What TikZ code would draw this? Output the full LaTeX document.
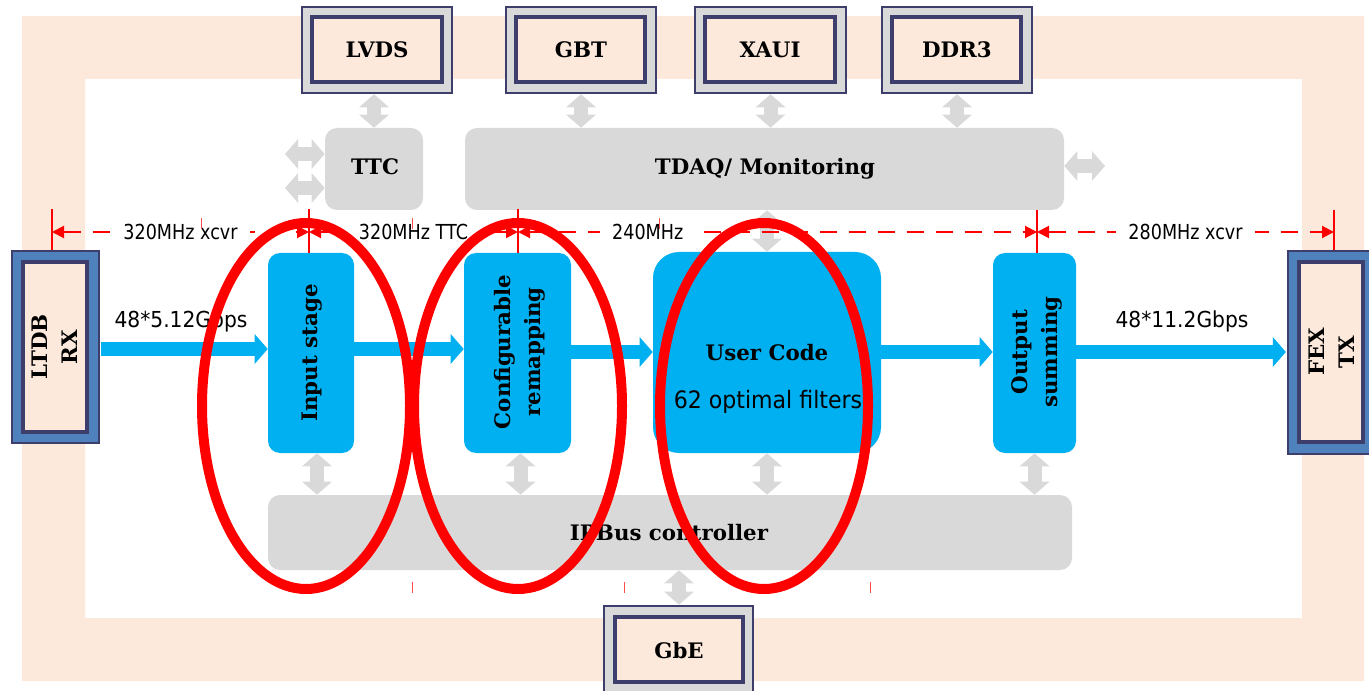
\documentclass[tikz,border=0pt]{standalone}
\usepackage{fontspec}
\setmainfont{DejaVu Serif}
\newfontfamily\flowsans{DejaVu Sans}[FakeStretch=0.92]
\newfontfamily\clocksans{DejaVu Sans}[FakeStretch=0.85]
\usetikzlibrary{arrows.meta,fit}

\definecolor{peach}{RGB}{252,233,219}
\definecolor{panelgray}{RGB}{217,217,217}
\definecolor{navy}{RGB}{62,62,108}
\definecolor{ltdbblue}{RGB}{79,129,189}
\definecolor{fpgacyan}{RGB}{0,176,240}
\definecolor{clkred}{RGB}{255,0,0}

\tikzset{
  boxfont/.style={font=\bfseries\fontsize{16}{22.5}\selectfont},
  boxtext/.style={inner sep=0pt, boxfont},
  ioframe/.style={inner sep=0pt, draw=navy, line width=1.9pt, fill=panelgray},
  ioinner/.style={inner sep=0pt, draw=navy, line width=2.5pt, fill=peach},
  linkframe/.style={inner sep=0pt, draw=navy, line width=1.6pt, fill=ltdbblue},
  fpgablk/.style={inner sep=0pt, fill=fpgacyan, rounded corners=9pt},
  panel/.style={inner sep=0pt, fill=panelgray, rounded corners=9pt},
  flow/.style={draw=fpgacyan, line width=10.5pt, -{Triangle[length=9.75pt,width=21.75pt]}},
  bus/.style={draw=panelgray, line width=10.5pt,
    {Triangle[length=9.75pt,width=21.75pt]}-{Triangle[length=9.75pt,width=21.75pt]}},
  clk/.style={draw=clkred, line width=1.5pt, dash pattern=on 12.75pt off 9pt,
    {Triangle[length=9pt,width=9pt]}-{Triangle[length=9pt,width=9pt]}},
  clktick/.style={draw=clkred, line width=1.5pt},
  clklabel/.style={fill=white, inner xsep=9pt, inner ysep=1pt,
    font=\clocksans\fontsize{15.5}{18}\selectfont},
  ratelabel/.style={font=\flowsans\fontsize{16.5}{20}\selectfont},
  rotlabel/.style={rotate=90, align=center, boxfont},
  ring/.style={draw=clkred, line width=7.5pt},
  stray/.style={draw=clkred!70, line width=0.75pt},
}

\begin{document}
\begin{tikzpicture}[x=0.75pt,y=-0.75pt]
\useasboundingbox (0,0) rectangle (1369,691);

% board outline band
\fill[peach, even odd rule] (22,16) rectangle (1364,681) (85,79) rectangle (1302,618);

% external interfaces
\node[ioframe, fit={(302,7) (452,93)}] (lvdsF) {};
\node[ioinner, fit={(312,17) (442,82)}] (lvds) {};
\node[boxtext] (lvdstxt) at (377,50) {LVDS};
\node[ioframe, fit={(506,7) (656,93)}] (gbtF) {};
\node[ioinner, fit={(516,17) (645,82)}] (gbt) {};
\node[boxtext] (gbttxt) at (581,50) {GBT};
\node[ioframe, fit={(695,7) (846,93)}] (xauiF) {};
\node[ioinner, fit={(705,17) (835,82)}] (xaui) {};
\node[boxtext] (xauitxt) at (770,50) {XAUI};
\node[ioframe, fit={(882,7) (1032,93)}] (ddrF) {};
\node[ioinner, fit={(892,17) (1021,82)}] (ddr) {};
\node[boxtext] (ddrtxt) at (957,50) {DDR3};
\node[ioframe, fit={(604,606) (753,702)}] (gbeF) {};
\node[ioinner, fit={(615,617) (743,682)}] (gbe) {};
\node[boxtext] (gbetxt) at (679,651) {GbE};

% link receiver / transmitter
\node[linkframe, fit={(12,251) (99,443)}] (ltdbF) {};
\node[ioinner, fit={(23,262) (87,432)}] (ltdb) {};
\node[rotlabel] (ltdbtxt) at (55,347) {LTDB\\RX};
\node[linkframe, fit={(1288,251) (1375,454)}] (fexF) {};
\node[ioinner, fit={(1299,262) (1363,442)}] (fex) {};
\node[rotlabel] (fextxt) at (1332,352) {FEX\\TX};

% control panels
\node[panel, fit={(325,128) (423,210)}] (ttc) {};
\node[boxtext] (ttctxt) at (375,167) {TTC};
\node[panel, fit={(465,128) (1064,210)}] (tdaq) {};
\node[boxtext] (tdaqtxt) at (765,169) {TDAQ/ Monitoring};
\node[panel, fit={(268,495) (1072,570)}] (ipbus) {};
\node[boxtext] (ipbustxt) at (669,533) {IPBus controller};

% processing chain
\node[fpgablk, fit={(268,253) (354,453)}] (inp) {};
\node[rotlabel] (inptxt) at (312,353) {Input stage};
\node[fpgablk, fit={(464,253) (571,453)}] (remap) {};
\node[rotlabel] (remaptxt) at (520,352) {Configurable\\remapping};
\node[fpgablk, rounded corners=19.5pt, fit={(653,252) (881,453)}] (user) {};
\node[boxfont] (usertitle) at (767,353) {User Code};
\node[font=\flowsans\fontsize{18}{21}\selectfont] (userfilt) at (768,402) {62 optimal filters};
\node[fpgablk, fit={(993,253) (1076,453)}] (osum) {};
\node[rotlabel] (osumtxt) at (1037,352) {Output\\summing};

% data flow
\coordinate (fa) at (0,349);
\coordinate (fb) at (0,352);
\draw[flow] ([xshift=0.8pt]ltdbF.east |- fa) -- (inp.west |- fa);
\draw[flow] (inp.east |- fa) -- (remap.west |- fa);
\draw[flow] (remap.east |- fb) -- (user.west |- fb);
\draw[flow] (user.east |- fb) -- (osum.west |- fb);
\draw[flow] (osum.east |- fb) -- ([xshift=-0.8pt]fexF.west |- fb);
\node[ratelabel] (ratein) at (181,321) {48*5.12Gbps};
\node[ratelabel] (rateout) at (1182,321) {48*11.2Gbps};

% control buses
\draw[bus] (lvdsF.south -| ttc.north) -- (ttc.north);
\draw[bus] (gbtF.south) -- (gbtF.south |- tdaq.north);
\draw[bus] (xauiF.south) -- (xauiF.south |- tdaq.north);
\draw[bus] (ddrF.south) -- (ddrF.south |- tdaq.north);
\coordinate (ttcw1) at (285,154);
\coordinate (ttcw2) at (285,188);
\draw[bus] (ttcw1) -- (ttc.west |- ttcw1);
\draw[bus] (ttcw2) -- (ttc.west |- ttcw2);
\coordinate (tdaqe) at (1105,166);
\draw[bus] (tdaq.east |- tdaqe) -- (tdaqe);
\draw[bus] (user.north |- tdaq.south) -- (user.north);
\draw[bus] ([xshift=4.5pt]inp.south) -- ([xshift=4.5pt]inp.south |- ipbus.north);
\draw[bus] ([xshift=2.25pt]remap.south) -- ([xshift=2.25pt]remap.south |- ipbus.north);
\draw[bus] (user.south) -- (user.south |- ipbus.north);
\draw[bus] (osum.south) -- (osum.south |- ipbus.north);
\draw[bus] (ipbus.south -| gbe.north) -- (gbeF.north -| gbe.north);

% clock domains
\coordinate (c0) at (52,232);
\coordinate (c1) at (309,232);
\coordinate (c2) at (518,232);
\coordinate (c3) at (1037,232);
\coordinate (c4) at (1334,232);
\coordinate (k0) at (52,209);
\coordinate (k1) at (309,209);
\coordinate (k2) at (518,209);
\coordinate (k3) at (1037,210);
\coordinate (k4) at (1334,210);
\draw[clktick] (k0) -- (k0 |- ltdbF.north);
\draw[clktick] (k1) -- (k1 |- inp.north);
\draw[clktick] (k2) -- (k2 |- remap.north);
\draw[clktick] (k3) -- (k3 |- osum.north);
\draw[clktick] (k4) -- (k4 |- fexF.north);
\draw[clk] (c0) -- node[clklabel] (clkA) {320MHz xcvr} (c1);
\draw[clk] (c1) -- node[clklabel] (clkB) {320MHz TTC} (c2);
\draw[clk] (c2) -- node[clklabel, pos=0.25] (clkC) {240MHz} (c3);
\draw[clk] (c3) -- node[clklabel] (clkD) {280MHz xcvr} (c4);

% short marks
\draw[stray] (201,218) -- (201,229);
\draw[stray] (412,218) -- (412,229);
\draw[stray] (659,218) -- (659,229);
\draw[stray] (412,582) -- (412,593);
\draw[stray] (624,582) -- (624,593);
\draw[stray] (870,582) -- (870,593);

% highlighted stages
\draw[ring] (306,406) ellipse [x radius=104, y radius=183];
\draw[ring] (518,406) ellipse [x radius=104, y radius=183];
\draw[ring] (764,406) ellipse [x radius=104, y radius=183];
\end{tikzpicture}
\end{document}
